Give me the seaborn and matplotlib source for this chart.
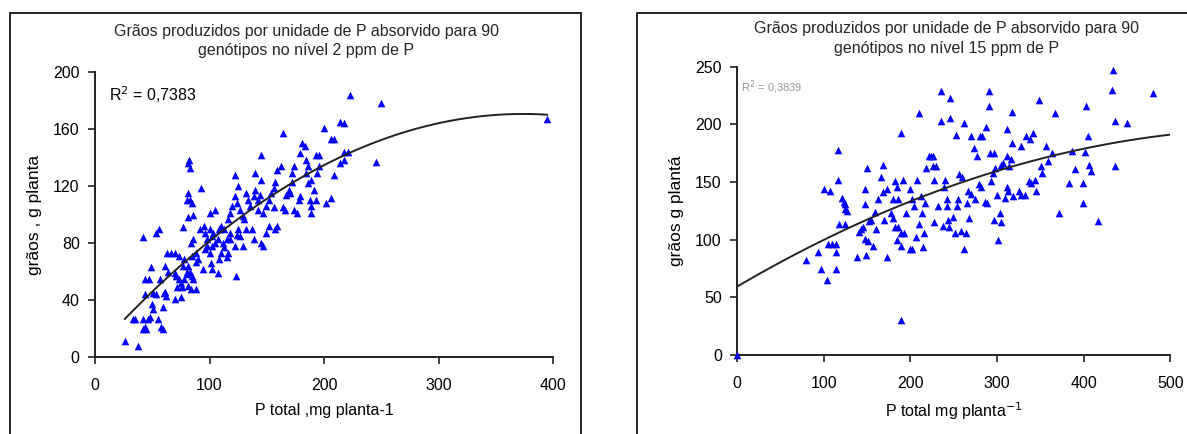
import numpy as np
import pandas as pd
import matplotlib
matplotlib.use("Agg")
import matplotlib.pyplot as plt
import seaborn as sns
from matplotlib.patches import Rectangle

# Left panel: 2 ppm de P  (P total, grãos)
p2_x = [26, 38, 33, 35, 42, 44, 42, 44.5, 48, 46, 55, 58, 59, 59, 51, 50, 53, 51, 44, 47,
        44, 49, 57, 61, 62, 60, 42, 53, 56, 63, 66, 70, 61, 64, 70, 71, 73, 75, 76, 72,
        75, 70, 73, 78, 77, 81, 80, 83, 85, 86, 88, 81, 84, 78, 80, 81, 82, 83, 81, 80,
        83, 85, 81, 77, 86, 84, 86, 88, 90, 85, 88, 93, 92, 95, 96, 98, 98, 100, 102, 100,
        102, 105, 107, 103, 96, 94, 101, 100, 102, 107, 108, 110, 113, 115, 112, 115, 118, 105,
        108, 110, 113, 116, 118, 120, 124, 122, 122, 125, 127, 129, 130, 132, 125, 124, 127, 118,
        122, 116, 123, 129, 132, 134, 135, 139, 140, 142, 142, 144, 145, 140, 145, 147, 149, 145,
        147, 139, 137, 149, 152, 152, 154, 156, 157, 159, 162, 156, 157, 159, 164, 164, 166, 167,
        169, 170, 172, 172, 174, 176, 174, 178, 179, 181, 183, 179, 184, 186, 184, 186, 189, 191,
        188, 189, 189, 193, 193, 196, 194, 196, 200, 202, 206, 206, 209, 209, 214, 217, 214, 217,
        217, 221, 223, 245, 250, 395]
p2_y = [11.6, 8, 27, 27, 27, 21, 20, 20, 28, 27, 27, 21, 20, 35, 34, 37, 44, 45, 44, 55,
        55, 63, 55, 46, 43, 45, 84, 87, 90, 73, 73, 73, 64, 60, 59, 57, 55, 52, 49, 49,
        42, 41, 71, 69, 64, 64, 60, 60, 57, 55, 48, 50, 48, 55, 58, 136, 138, 133, 115, 110,
        110, 108, 98, 91, 100, 80, 83, 73, 69, 71, 67, 119, 90, 92, 87, 83, 78, 73, 85, 90,
        78, 80, 83, 87, 76, 62, 66, 101, 62, 59, 69, 73, 77, 70, 80, 83, 87, 103,
        90, 92, 90, 97, 101, 106, 108, 113, 128, 120, 103, 99, 97, 90, 90, 86, 85, 83,
        78, 73, 57, 78, 115, 110, 106, 113, 117, 110, 103, 114, 124, 129, 142, 101, 106, 80,
        78, 83, 90, 87, 92, 110, 115, 119, 123, 131, 134, 105, 90, 92, 157, 105, 103, 114,
        117, 115, 123, 129, 134, 101, 103, 110, 113, 150, 148, 143, 138, 134, 129, 122, 124, 117,
        110, 106, 101, 110, 142, 142, 129, 134, 161, 108, 112, 153, 153, 128, 165, 164, 136, 138,
        144, 144, 184, 137, 178, 167]

# Right panel: 15 ppm de P
p15_x = [0, 80, 93, 97, 100, 107, 104, 105, 110, 114, 114, 114, 116, 116, 117, 124, 121, 123, 125, 127,
         124, 138, 141, 143, 145, 147, 148, 150, 148, 151, 149, 152, 154, 157, 160, 159, 162, 166, 168, 168,
         169, 173, 173, 178, 180, 180, 182, 184, 186, 182, 186, 185, 189, 189, 193, 191, 195, 189, 189, 199,
         202, 204, 199, 202, 206, 210, 208, 210, 212, 213, 216, 215, 217, 218, 222, 224, 226, 226, 227, 227,
         230, 232, 235, 235, 238, 239, 240, 242, 242, 243, 245, 246, 246, 249, 251, 253, 254, 255, 256, 258,
         259, 262, 262, 264, 265, 266, 268, 270, 270, 273, 275, 277, 280, 279, 283, 287, 281, 286, 288, 291,
         291, 292, 293, 295, 296, 296, 298, 300, 301, 303, 304, 305, 307, 309, 311, 311, 312, 314, 316, 317,
         317, 313, 318, 325, 328, 328, 332, 333, 337, 338, 341, 339, 344, 345, 348, 351, 352, 357, 359, 363,
         367, 372, 383, 386, 390, 399, 399, 402, 403, 405, 406, 408, 417, 434, 433, 436, 436, 450, 480]
p15_y = [0, 82, 89, 75, 144, 142, 65, 96, 96, 96, 75, 89, 178, 152, 114, 114, 136, 133, 131, 125,
         127, 85, 107, 109, 111, 131, 144, 162, 101, 99, 87, 116, 117, 95, 109, 124, 135, 154, 165, 141,
         117, 85, 144, 123, 119, 135, 151, 146, 135, 111, 111, 100, 106, 95, 106, 152, 123, 193, 30, 144,
         135, 129, 92, 92, 102, 114, 152, 210, 138, 123, 106, 94, 132, 162, 173, 173, 173, 164, 152, 115,
         164, 129, 229, 203, 112, 146, 152, 135, 129, 117, 111, 223, 206, 120, 106, 191, 129, 135, 157, 108,
         154, 201, 92, 106, 132, 142, 119, 140, 190, 180, 135, 173, 190, 148, 190, 198, 146, 133, 132, 229,
         216, 175, 151, 158, 175, 117, 162, 139, 100, 123, 115, 165, 167, 136, 173, 146, 196, 164, 170, 211,
         184, 142, 138, 142, 181, 139, 139, 190, 151, 187, 193, 149, 152, 142, 221, 164, 158, 181, 168, 175,
         210, 123, 149, 177, 161, 149, 132, 176, 216, 190, 165, 160, 116, 247, 230, 203, 164, 201, 227]

titles = ["Grãos produzidos por unidade de P absorvido para 90\ngenótipos no nível 2 ppm de P",
          "Grãos produzidos por unidade de P absorvido para 90\ngenótipos no nível 15 ppm de P"]
xlabels = ["P total ,mg planta-1", "P total mg planta$^{-1}$"]
ylabels = ["grãos , g planta", "grãos g plantá"]
r2_labels = ["R$^{2}$ = 0,7383", "R$^{2}$ = 0,3839"]

sns.set_theme(style="white")
plt.rcParams['font.family'] = ['Liberation Sans', 'DejaVu Sans']

fig = plt.figure(figsize=(11.87, 4.34), dpi=100)

# panel frames
fig.add_artist(Rectangle((0.0085, -0.05), 0.481, 1.02, transform=fig.transFigure,
                         fill=False, edgecolor="black", linewidth=1.2))
fig.add_artist(Rectangle((0.537, -0.05), 0.5, 1.02, transform=fig.transFigure,
                         fill=False, edgecolor="black", linewidth=1.2))

ax1 = fig.add_axes([0.080, 0.177, 0.386, 0.657])
ax2 = fig.add_axes([0.621, 0.182, 0.365, 0.664])

panels = [
    (ax1, p2_x, p2_y, (0, 400), (0, 200), np.arange(0, 401, 100), np.arange(0, 201, 40)),
    (ax2, p15_x, p15_y, (0, 500), (0, 250), np.arange(0, 501, 100), np.arange(0, 251, 50)),
]

for i, (ax, xs, ys, xl, yl, xt, yt) in enumerate(panels):
    df = pd.DataFrame({"P": xs, "graos": ys})
    ax.set_xlim(*xl)
    ax.set_ylim(*yl)
    sns.scatterplot(data=df, x="P", y="graos", ax=ax, marker="^", color="#0000ff",
                    s=30, linewidth=0, clip_on=False, zorder=3)
    sns.regplot(data=df, x="P", y="graos", ax=ax, order=2, ci=None, scatter=False,
                truncate=(i == 0), line_kws={"color": "#222222", "linewidth": 1.4, "zorder": 4})
    ax.set_xlim(*xl)
    ax.set_ylim(*yl)
    ax.set_xticks(xt)
    ax.set_yticks(yt)
    for s in ["top", "right"]:
        ax.spines[s].set_visible(False)
    for s in ["left", "bottom"]:
        ax.spines[s].set_color("#222222")
        ax.spines[s].set_linewidth(1.4)
    ax.tick_params(axis="both", direction="out", length=5, width=1.2, color="#222222",
                   labelsize=11.5, labelcolor="black", left=True, bottom=True)
    ax.tick_params(axis="x", pad=10)
    ax.tick_params(axis="y", pad=6)
    ax.set_xlabel(xlabels[i], fontsize=11.5, labelpad=7, color="black")
    ax.set_ylabel(ylabels[i], fontsize=12.5, labelpad=8, color="black")

ax1.set_title(titles[0], fontsize=11.5, x=0.461, pad=12, linespacing=1.4)
ax2.set_title(titles[1], fontsize=11.5, x=0.483, pad=10, linespacing=1.4)

ax1.text(12, 184, r2_labels[0], fontsize=11.5, color="black", va="center")
ax2.text(5, 232, r2_labels[1], fontsize=8, color="#999999", va="center")

fig.savefig("out.png", dpi=100)
